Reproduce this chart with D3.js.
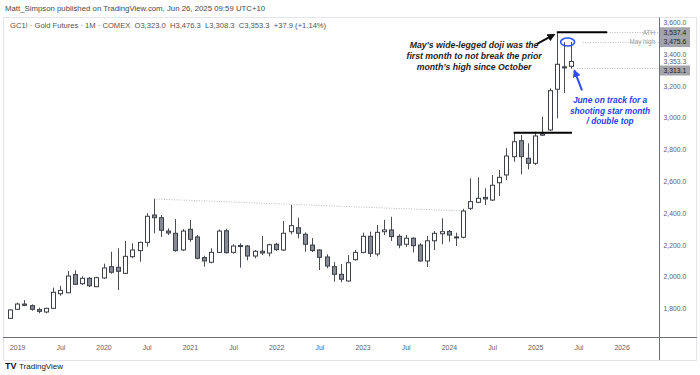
<!DOCTYPE html>
<html><head><meta charset="utf-8">
<script src="https://cdn.jsdelivr.net/npm/d3@7"></script>
<style>
html,body{margin:0;padding:0;background:#fff;}
svg{display:block;font-family:"Liberation Sans",Arial,sans-serif;}
</style></head>
<body><svg id="c" width="700" height="375"></svg>
<script>
// ---- data (GC1! monthly, Dec 2018 .. Jun 2025, back-adjusted as drawn) ----
const months = ["2018-12","2019-01","2019-02","2019-03","2019-04","2019-05","2019-06","2019-07","2019-08","2019-09","2019-10","2019-11","2019-12",
"2020-01","2020-02","2020-03","2020-04","2020-05","2020-06","2020-07","2020-08","2020-09","2020-10","2020-11","2020-12",
"2021-01","2021-02","2021-03","2021-04","2021-05","2021-06","2021-07","2021-08","2021-09","2021-10","2021-11","2021-12",
"2022-01","2022-02","2022-03","2022-04","2022-05","2022-06","2022-07","2022-08","2022-09","2022-10","2022-11","2022-12",
"2023-01","2023-02","2023-03","2023-04","2023-05","2023-06","2023-07","2023-08","2023-09","2023-10","2023-11","2023-12",
"2024-01","2024-02","2024-03","2024-04","2024-05","2024-06","2024-07","2024-08","2024-09","2024-10","2024-11","2024-12",
"2025-01","2025-02","2025-03","2025-04","2025-05","2025-06"];
const open = [1738,1795,1828,1818,1793,1778,1801,1893,1899,2013,1956,1990,1937,
1992,2063,2059,2021,2126,2164,2216,2388,2371,2287,2273,2168,
2298,2250,2120,2091,2153,2289,2153,2196,2193,2130,2160,2149,
2204,2168,2283,2308,2267,2199,2168,2124,2063,2015,1973,2107,
2153,2254,2143,2283,2294,2254,2204,2242,2199,2099,2226,2270,
2285,2250,2248,2430,2468,2499,2482,2591,2640,2755,2855,2745,
2713,2890,2923,3179,3320,3323.0];
const high = [1795,1837,1853,1826,1805,1805,1931,1943,2036,2040,2003,1998,2000,
2082,2157,2179,2225,2210,2220,2399,2489,2388,2304,2363,2300,
2357,2262,2132,2179,2298,2302,2204,2210,2199,2168,2256,2208,
2214,2350,2451,2371,2279,2243,2172,2141,2091,2080,2136,2168,
2277,2283,2325,2358,2377,2267,2262,2248,2210,2256,2287,2367,
2294,2277,2427,2619,2625,2556,2640,2671,2808,2906,2891,2839,
2912,3006,3185,3537.4,3475.6,3476.3];
const low = [1734,1791,1815,1786,1770,1770,1797,1880,1896,1948,1948,1935,1935,
1987,2019,1916,2017,2116,2094,2189,2273,2250,2262,2157,2161,
2220,2109,2063,2084,2149,2145,2145,2057,2103,2116,2136,2128,
2162,2162,2267,2241,2157,2155,2042,2053,1969,1965,1969,2101,
2147,2124,2128,2262,2225,2179,2187,2153,2094,2061,2168,2204,
2220,2193,2241,2419,2462,2451,2476,2508,2608,2723,2644,2675,
2703,2885,2916,2996,3155,3308.3];
const close = [1791,1828,1820,1795,1782,1801,1902,1914,2004,1952,1990,1943,1994,
2055,2028,2034,2128,2168,2216,2380,2371,2292,2275,2164,2287,
2235,2116,2099,2153,2287,2151,2193,2194,2130,2160,2149,2201,
2170,2273,2321,2273,2204,2164,2122,2067,2015,1984,2088,2153,
2254,2147,2279,2294,2252,2199,2242,2195,2099,2226,2273,2283,
2262,2248,2413,2472,2493,2489,2575,2625,2759,2849,2755,2713,
2885,2898,3170,3336,3313.1,3353.3];

const priceTicks = [1800,2000,2200,2400,2600,2800,3000,3200,3400,3600];
const timeTickIdx = [1,7,13,19,25,31,37,43,49,55,61,67,73,79,85];
const timeTickLabels = ["2019","Jul","2020","Jul","2021","Jul","2022","Jul","2023","Jul","2024","Jul","2025","Jul","2026"];

// highlighted price-scale labels: value, boxed?
const priceMarks = [{v:3537.4, box:true},{v:3475.6, box:true},{v:3353.3, box:false},{v:3313.1, box:true}];

// drawn levels (index from / to, value)
const athLine = {from:76, to:83, v:3537.4};
const octHighLine = {from:70, to:78.1, v:2906};
const trendLine = [{i:20, v:2489},{i:63, v:2413}];
const dottedLevels = [{from:83, v:3537.4, label:"ATH"},{from:79.6, v:3475.6, label:"May high"},{from:78.8, v:3313.1, label:""}];

const note1 = ["May\u2019s wide-legged doji was the","first month to not break the prior","month\u2019s high since October"];
const note2 = ["June on track for a","shooting star month","/ double top"];

const header1 = "Matt_Simpson published on TradingView.com, Jun 26, 2025 09:59 UTC+10";
const header2 = "GC1! \u00b7 Gold Futures \u00b7 1M \u00b7 COMEX  O3,323.0  H3,476.3  L3,308.3  C3,353.3  +37.9 (+1.14%)";

// ---- layout ----
const svg = d3.select("#c");
const plotL = 3, plotR = 659.5, plotT = 17, plotB = 337;
const x = d3.scaleLinear().domain([0, 78]).range([10, 571.2]);
const y = d3.scaleLinear().domain([1800, 3600]).range([308.5, 22.3]);

svg.append("rect").attr("x",0).attr("y",0).attr("width",700).attr("height",375).attr("fill","#fff");
svg.append("rect").attr("x",3.5).attr("y",17.5).attr("width",693).attr("height",343)
  .attr("fill","#fff").attr("stroke","#e3e5ea");

svg.append("text").attr("x",5).attr("y",11).attr("font-size",7.8).attr("fill","#4a4a4a").text(header1);
svg.append("text").attr("x",10).attr("y",28).attr("font-size",7.6).attr("fill","#555").attr("xml:space","preserve").text(header2);

svg.append("defs").append("clipPath").attr("id","plot").append("rect")
  .attr("x",plotL).attr("y",plotT).attr("width",plotR-plotL).attr("height",plotB-plotT);
const g = svg.append("g").attr("clip-path","url(#plot)");

// trend line (dotted)
g.append("line")
  .attr("x1",x(trendLine[0].i)).attr("y1",y(trendLine[0].v))
  .attr("x2",x(trendLine[1].i)).attr("y2",y(trendLine[1].v))
  .attr("stroke","#b8bbc2").attr("stroke-width",1).attr("stroke-dasharray","1,1.5");

// dotted price levels
dottedLevels.forEach(d=>{
  g.append("line").attr("x1",x(d.from)).attr("x2",plotR).attr("y1",Math.round(y(d.v))+0.5).attr("y2",Math.round(y(d.v))+0.5)
   .attr("stroke","#b8bbc2").attr("stroke-dasharray","1,1.5");
  if(d.label) g.append("text").attr("x",655).attr("y",y(d.v)+2.3).attr("text-anchor","end")
   .attr("font-size",6.3).attr("fill","#9a9ca3").text(d.label);
});

// candles
const data = months.map((m,i)=>({m,i,o:open[i],h:high[i],l:low[i],c:close[i]}));
const cg = g.append("g");
cg.selectAll("line.w").data(data).join("line").attr("class","w")
  .attr("x1",d=>Math.round(x(d.i))+0.5).attr("x2",d=>Math.round(x(d.i))+0.5)
  .attr("y1",d=>y(d.h)).attr("y2",d=>y(d.l)).attr("stroke","#4a4d55").attr("stroke-width",1);
cg.selectAll("rect.b").data(data).join("rect").attr("class","b")
  .attr("x",d=>Math.round(x(d.i))-1.5).attr("width",4)
  .attr("y",d=>y(Math.max(d.o,d.c)))
  .attr("height",d=>Math.max(1,Math.abs(y(d.o)-y(d.c))))
  .attr("fill",d=>d.c>=d.o?"#ffffff":"#868a94")
  .attr("stroke","#3c3f47").attr("stroke-width",1);

// thick black levels
[athLine, octHighLine].forEach(d=>{
  g.append("line").attr("x1",x(d.from)).attr("x2",x(d.to)).attr("y1",y(d.v)).attr("y2",y(d.v))
   .attr("stroke","#000").attr("stroke-width",2);
});

// blue ellipse around the two highs
g.append("ellipse").attr("cx",x(77.5)).attr("cy",y(3476)).attr("rx",7).attr("ry",4)
  .attr("fill","none").attr("stroke","#2f55ff").attr("stroke-width",1.6);

// arrows
const defs = svg.select("defs");
function marker(id,color){
  defs.append("marker").attr("id",id).attr("viewBox","0 0 10 10").attr("refX",8).attr("refY",5)
   .attr("markerWidth",4).attr("markerHeight",4).attr("orient","auto")
   .append("path").attr("d","M0,0 L10,5 L0,10 z").attr("fill",color);
}
marker("ab","#111"); marker("au","#2f4cf5");
g.append("line").attr("x1",x(73.2)).attr("y1",y(3463)).attr("x2",x(75.6)).attr("y2",y(3522))
  .attr("stroke","#111").attr("stroke-width",2).attr("marker-end","url(#ab)");
g.append("line").attr("x1",x(79.5)).attr("y1",y(3172)).attr("x2",x(78.45)).attr("y2",y(3296))
  .attr("stroke","#2f4cf5").attr("stroke-width",2).attr("marker-end","url(#au)");

// annotation texts
const t1 = g.append("text").attr("text-anchor","middle").attr("font-size",8.7)
  .attr("font-weight","bold").attr("font-style","italic").attr("fill","#1e1e1e");
note1.forEach((s,k)=>t1.append("tspan").attr("x",x(64.5)).attr("y",y([3441,3372,3303][k])).text(s));
const t2 = g.append("text").attr("text-anchor","middle").attr("font-size",8.3)
  .attr("font-weight","bold").attr("font-style","italic").attr("fill","#2541f5");
note2.forEach((s,k)=>t2.append("tspan").attr("x",x(83.4)).attr("y",y([3091,3023,2958][k])).text(s));

// axes
svg.append("line").attr("x1",3).attr("x2",697).attr("y1",plotB+0.5).attr("y2",plotB+0.5).attr("stroke","#6e717a");
svg.append("line").attr("x1",plotR).attr("x2",plotR).attr("y1",17.5).attr("y2",360).attr("stroke","#6e717a");

const ya = svg.append("g").attr("transform",`translate(${plotR},0)`)
  .call(d3.axisRight(y).tickValues(priceTicks).tickFormat(d3.format(",.1f")).tickSize(0).tickPadding(4));
ya.select(".domain").remove();
ya.selectAll("text").attr("font-size",6.8).attr("fill","#5d606b").attr("font-family","Liberation Sans, Arial, sans-serif");

const xa = svg.append("g").attr("transform",`translate(0,${plotB})`)
  .call(d3.axisBottom(x).tickValues(timeTickIdx).tickFormat((d,k)=>timeTickLabels[k]).tickSize(0).tickPadding(8.5));
xa.select(".domain").remove();
xa.selectAll("text").attr("font-size",6.9).attr("fill","#5d606b").attr("font-family","Liberation Sans, Arial, sans-serif");

// highlighted price labels with simple collision push
let prev = -100;
const pm = priceMarks.slice().sort((a,b)=>b.v-a.v).map(d=>{
  let cy = y(d.v);
  if(cy-prev < 7.5) cy = prev + 9;
  prev = cy; return Object.assign({cy},d);
});
pm.forEach(d=>{
  if(d.box) svg.append("rect").attr("x",plotR+0.5).attr("y",d.cy-5).attr("width",30).attr("height",10).attr("fill","#a3a5aa");
  else svg.append("rect").attr("x",plotR+0.5).attr("y",d.cy-4).attr("width",30).attr("height",8).attr("fill","#fff");
  svg.append("text").attr("x",plotR+4).attr("y",d.cy+2.4).attr("font-size",6.8)
    .attr("fill",d.box?"#1f2126":"#5d606b").text(d3.format(",.1f")(d.v));
});

// TradingView logo
svg.append("text").attr("x",5).attr("y",369).attr("font-size",9).attr("font-weight","900").attr("fill","#131722").text("TV");
svg.append("text").attr("x",19).attr("y",369).attr("font-size",8).attr("fill","#131722").text("TradingView");
</script></body></html>
